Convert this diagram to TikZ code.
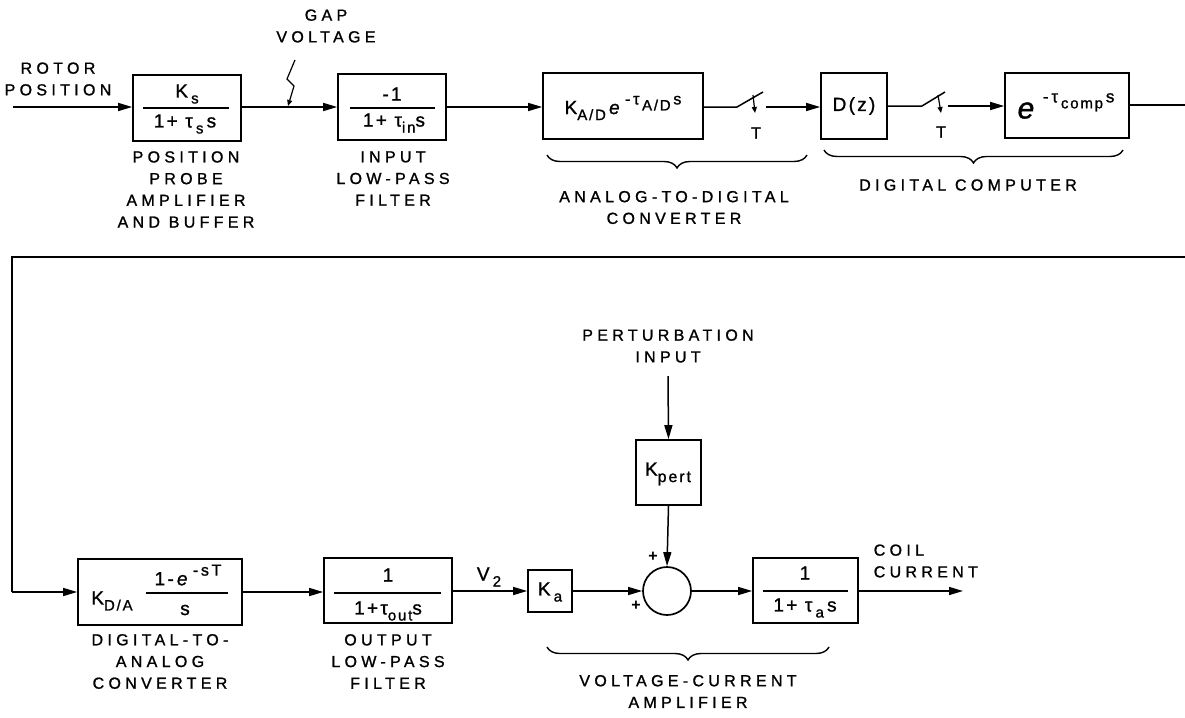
\documentclass[tikz,border=0pt]{standalone}
\usepackage{fontspec}
\setmainfont{Liberation Sans}
\newfontfamily\capfont[LetterSpace=27,FakeBold=1.2]{Liberation Sans}
\newfontfamily\boxfont[LetterSpace=12,FakeBold=1.2]{Liberation Sans}
\usetikzlibrary{arrows.meta,decorations.pathreplacing}
\newcommand\lo[1]{{\fontsize{15}{15}\selectfont\raisebox{-0.4em}{#1}}}
\newcommand\hi[1]{{\fontsize{16}{16}\selectfont\raisebox{0.6em}{#1}}}
\begin{document}
\begin{tikzpicture}[x=1pt,y=-1pt,
  line width=1.5pt,
  blk/.style={draw, line width=1.7pt, inner sep=0pt},
  txt/.style={inner sep=0pt, font=\boxfont\fontsize{19}{19}\selectfont},
  lbl/.style={inner sep=0pt, align=center, font=\capfont\fontsize{16}{21.7}\selectfont},
  arr/.style={-{Triangle[length=14pt,width=8pt]}},
  smallarr/.style={-{Triangle[length=6pt,width=5pt]}},
  brc/.style={decorate, decoration={brace, mirror, amplitude=13pt, aspect=0.5}, line width=1.4pt}
]
\useasboundingbox (0,0) rectangle (1185,717);
% ---------- top row boxes
\node[blk, minimum width=108pt, minimum height=66pt] (b1) at (187,108) {};
\node[blk, minimum width=108pt, minimum height=66pt] (b2) at (392,107) {};
\node[blk, minimum width=160pt, minimum height=66pt] (b3) at (623,106) {};
\node[blk, minimum width=66pt, minimum height=66pt] (b4) at (854,106) {};
\node[blk, minimum width=124pt, minimum height=65pt] (b5) at (1067,105.5) {};
% box contents
\node[txt] (b1n) at (187,94) {K\,\lo{s}};
\node[txt] (b1d) at (185,124) {1+ τ\,\lo{s}\,s};
\draw[line width=1.4pt] (143,108) -- (229,108);
\node[txt] (b2n) at (392,94) {-1};
\node[txt] (b2d) at (394,123) {1+ τ\lo{in}s};
\draw[line width=1.4pt] (350,108) -- (435,108);
\node[txt] (b3t) at (623,108) {K\lo{A/D}\,\textit{e}\,\hi{-\,τ\,\lo{A/D}\,s}};
\node[txt] (b4t) at (854,106) {D(z)};
\node[txt] (b5t) at (1066,106) {\fontsize{30}{30}\selectfont\textit{e}\,{\fontsize{17}{17}\selectfont\raisebox{0.95em}{-\,τ\,\lo{comp}\,s}}};
% labels top
\node[lbl] (rp) at (58,79) {ROTOR\\POSITION};
\node[lbl] (gv) at (326,26) {GAP\\VOLTAGE};
\node[lbl] (l1) at (186,189.5) {POSITION\\PROBE\\AMPLIFIER\\AND BUFFER};
\node[lbl] (l2) at (393,178.5) {INPUT\\LOW-PASS\\FILTER};
\node[lbl] (l3) at (674,207.5) {ANALOG-TO-DIGITAL\\CONVERTER};
\node[lbl] (l4) at (968,185) {DIGITAL COMPUTER};
\node[lbl] (t1) at (756,133) {T};
\node[lbl] (t2) at (941,132) {T};
% connectors top
\coordinate (in0) at (13,107);
\draw[arr] (in0) -- (in0 -| b1.west);
\draw[arr] (b1.east |- in0) -- (b2.west |- in0);
\coordinate (g0) at (295,60);
\coordinate (g1) at (287,79);
\coordinate (g2) at (294,86);
\coordinate (g3) at (288,106);
\draw[smallarr, line width=1.2pt] (g0) -- (g1) -- (g2) -- (g3);
\draw[arr] (b2.east |- in0) -- (b3.west |- in0);
% switch 1
\coordinate (s1a) at (737,107);
\coordinate (s1b) at (763,92);
\coordinate (s1c) at (766,107);
\draw (b3.east |- s1a) -- (s1a) -- (s1b);
\draw[smallarr, line width=1.2pt] (753,95) -- (755,113);
\draw[arr] (s1c) -- (b4.west |- s1c);
% switch 2
\coordinate (s2a) at (922,106);
\coordinate (s2b) at (945,92);
\coordinate (s2c) at (948,106);
\draw (b4.east |- s2a) -- (s2a) -- (s2b);
\draw[smallarr, line width=1.2pt] (938,95) -- (941,113);
\draw[arr] (s2c) -- (b5.west |- s2c);
% feedback
\coordinate (r1) at (1185,105);
\coordinate (r2) at (1185,257);
\coordinate (r3) at (12,257);
\coordinate (r4) at (12,592);
\draw (b5.east |- r1) -- (r1);
% braces
\draw[brc] (547,155) -- (807,155);
\draw[brc] (824,150) -- (1123,150);
% ---------- bottom row
\node[blk, minimum width=164pt, minimum height=66pt] (b6) at (160,592) {};
\node[blk, minimum width=128pt, minimum height=65pt] (b7) at (388,590.5) {};
\node[blk, minimum width=44pt, minimum height=42pt] (ka) at (550,591) {};
\node[draw, circle, line width=1.7pt, minimum size=48pt, inner sep=0pt] (sum) at (667,591) {};
\node[blk, minimum width=65pt, minimum height=65pt] (kp) at (668.5,472.5) {};
\node[blk, minimum width=105pt, minimum height=65pt] (b8) at (805.5,590.5) {};
% contents
\node[txt] (b6k) at (112,601) {K\lo{D/A}};
\node[txt] (b6n) at (188,575) {1-\,\textit{e}\,\hi{-\,s\,T}};
\node[txt] (b6d) at (185,610) {s};
\draw[line width=1.4pt] (146,593) -- (228,593);
\node[txt] (b7n) at (388,575) {1};
\node[txt] (b7d) at (388,611) {1+τ\lo{out}s};
\draw[line width=1.4pt] (334,593) -- (441,593);
\node[txt] (kat) at (550,592) {K\,\lo{a}};
\node[txt] (kpt) at (668,474) {K{\fontsize{16}{16}\selectfont\raisebox{-0.4em}{pert}}};
\node[txt] (b8n) at (805,573) {1};
\node[txt] (b8d) at (805,608) {1+ τ\,\lo{a}\,s};
\draw[line width=1.4pt] (763,591) -- (848,591);
% labels bottom
\node[lbl] (l6) at (160,661.5) {DIGITAL-TO-\\ANALOG\\CONVERTER};
\node[lbl] (l7) at (388,661.5) {OUTPUT\\LOW-PASS\\FILTER};
\node[lbl] (l8) at (688,691.5) {VOLTAGE-CURRENT\\AMPLIFIER};
\node[lbl] (pi) at (668,346) {PERTURBATION\\INPUT};
\node[txt] (v2) at (489,577) {V\,\lo{2}};
\node[lbl, align=left, anchor=west] (cc) at (873,561) {COIL\\CURRENT};
\node[inner sep=0pt, font=\bfseries\fontsize{16}{16}\selectfont] (p1) at (653,557) {+};
\node[inner sep=0pt, font=\bfseries\fontsize{16}{16}\selectfont] (p2) at (636,606) {+};
% connectors bottom
\draw (r2) -- (r3) -- (r4);
\draw[arr] (r4) -- (b6.west |- r4);
\draw[arr] (b6.east |- r4) -- (b7.west |- r4);
\draw[arr] (b7.east |- sum) -- (ka.west);
\draw[arr] (ka.east) -- (sum.west);
\coordinate (pin) at (668,376);
\draw[arr] (pin) -- (kp.north);
\draw[arr] (kp.south) -- (sum.north);
\draw[arr] (sum.east) -- (b8.west |- sum);
\coordinate (out) at (963,591);
\draw[arr] (b8.east |- sum) -- (out);
\draw[brc] (547,647) -- (829,647);
\end{tikzpicture}
\end{document}
